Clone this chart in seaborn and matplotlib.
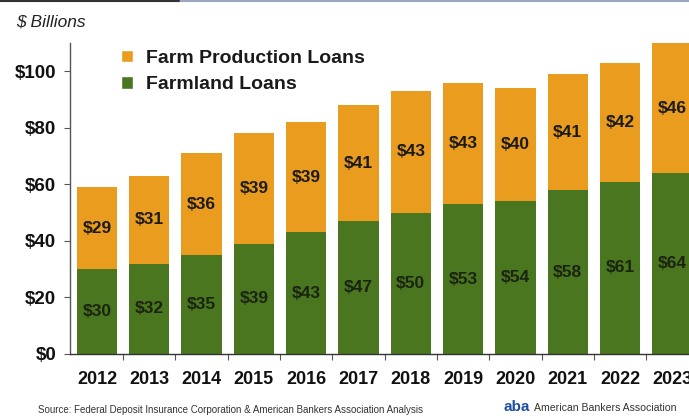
import matplotlib
matplotlib.use("Agg")
import matplotlib.pyplot as plt
from matplotlib.patches import Patch
import numpy as np
import pandas as pd
import seaborn as sns

years = ["2012", "2013", "2014", "2015", "2016", "2017",
         "2018", "2019", "2020", "2021", "2022", "2023"]
farmland = [30, 32, 35, 39, 43, 47, 50, 53, 54, 58, 61, 64]
production = [29, 31, 36, 39, 39, 41, 43, 43, 40, 41, 42, 46]
y_ticks = [0, 20, 40, 60, 80, 100]

ORANGE = "#E99C1E"
GREEN = "#4A7620"

sns.set_theme(style="white")
plt.rcParams["font.family"] = ["Liberation Sans", "DejaVu Sans"]

df = pd.DataFrame({"year": years, "farmland": farmland, "production": production})
df["total"] = df["farmland"] + df["production"]

fig = plt.figure(figsize=(6.89, 4.16), dpi=100)
ax = fig.add_axes([70 / 689, 62 / 416, 619 / 689, 311 / 416])

# stacked bars: full total in orange, farmland overdrawn in green
sns.barplot(data=df, x="year", y="total", color=ORANGE, saturation=1,
            width=0.77, ax=ax, linewidth=0)
sns.barplot(data=df, x="year", y="farmland", color=GREEN, saturation=1,
            width=0.77, ax=ax, linewidth=0)

for i, (f, p) in enumerate(zip(farmland, production)):
    ax.text(i, f / 2, f"${f}", ha="center", va="center",
            fontsize=12.5, fontweight="bold", color="#1b2410")
    ax.text(i, f + p / 2, f"${p}", ha="center", va="center",
            fontsize=12.5, fontweight="bold", color="#1c1a1a")

ax.set_yticks(y_ticks)
ax.set_yticklabels([f"${v}" for v in y_ticks], fontsize=13.5, fontweight="bold",
                   color="#111111")
ax.set_xticks(range(len(years)))
ax.set_xticklabels(years, fontsize=13, fontweight="bold", color="#111111")
ax.set_xticks(np.arange(len(years) - 1) + 0.5, minor=True)
ax.tick_params(axis="x", which="major", length=0, pad=12)
ax.tick_params(axis="x", which="minor", length=4, width=0.8, color="#555555",
               direction="out", bottom=True)
ax.tick_params(axis="y", length=4, width=0.8, color="#555555", direction="out",
               left=True, pad=6)
ax.set_xlabel("")
ax.set_ylabel("")
# the last year runs off the right edge
ax.set_xlim(-0.516, 11.32)
ax.set_ylim(0, 110)

for side in ("top", "right"):
    ax.spines[side].set_visible(False)
ax.spines["left"].set_color("#555555")
ax.spines["left"].set_linewidth(1.0)
ax.spines["bottom"].set_color("#333333")
ax.spines["bottom"].set_linewidth(1.0)

handles = [Patch(facecolor=ORANGE, label="Farm Production Loans"),
           Patch(facecolor=GREEN, label="Farmland Loans")]
leg = ax.legend(handles=handles, loc="upper left", bbox_to_anchor=(0.054, 1.035),
                frameon=False, handlelength=0.6, handleheight=0.6,
                handletextpad=0.7, labelspacing=0.5,
                prop={"size": 14, "weight": "bold"})
for t in leg.get_texts():
    t.set_color("#1a1a1a")

fig.text(16 / 689, 1 - 22 / 416, "$ Billions", fontsize=12.5, style="italic",
         color="#222222", va="center", ha="left")
fig.text(38 / 689, 1 - 410 / 416,
         "Source: Federal Deposit Insurance Corporation & American Bankers Association Analysis",
         fontsize=7, color="#333333", va="center", ha="left")
fig.text(503 / 689, 1 - 407 / 416, "aba", fontsize=11, fontweight="bold",
         color="#1f4fa0", va="center", ha="left")
fig.text(534 / 689, 1 - 408 / 416, "American Bankers Association",
         fontsize=7.6, color="#333333", va="center", ha="left")

# thin rule across the top edge
fig.add_artist(plt.Line2D([0, 1], [0.997, 0.997], color="#9aa7c0", linewidth=1.5))
fig.add_artist(plt.Line2D([0, 0.26], [0.997, 0.997], color="#333333", linewidth=1.5))

fig.savefig("out.png", dpi=100)
